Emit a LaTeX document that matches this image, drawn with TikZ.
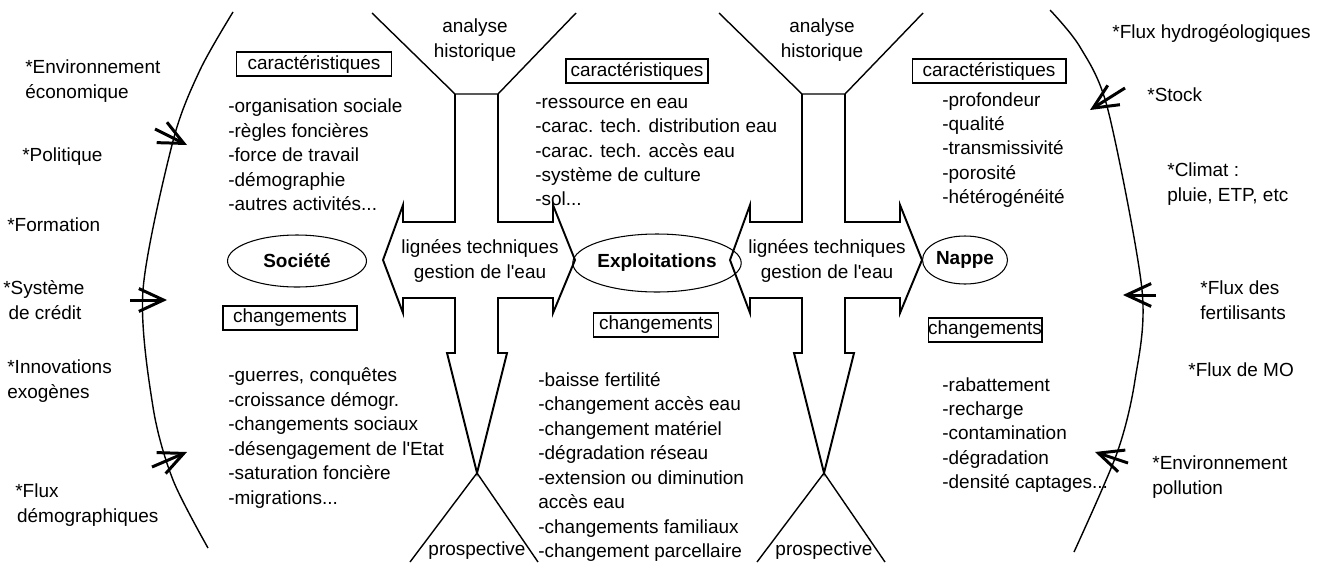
\documentclass[tikz,border=0pt]{standalone}
\usepackage{fontspec}
\setmainfont{Liberation Sans}
\usepackage{tikz}
\usetikzlibrary{shapes.geometric,arrows.meta}

\begin{document}
\begin{tikzpicture}[x=0.02cm,y=-0.02cm]
  \tikzset{>={Straight Barb[length=14pt,width=13pt]}}
  \tikzset{txt/.style={font=\fontsize{10.8}{13.9}\selectfont, inner sep=0pt, align=left}}
  \tikzset{boite/.style={draw, line width=0.6pt, font=\fontsize{10.8}{13}\selectfont, inner sep=0pt, minimum height=0.48cm}}
  \tikzset{pole/.style={draw, ellipse, line width=0.6pt, inner sep=0pt, font=\fontsize{10.8}{13}\selectfont\bfseries}}
  \tikzset{flux/.style={->, line width=1.7pt}}
  \useasboundingbox (0,0) rectangle (1324,565);

  % les deux sabliers
  \foreach \d [count=\i] in {0,347} {
    \draw [line width=0.8pt] (372+\d,13) -- (455+\d,94) -- (498+\d,94) -- (576+\d,13);
    \draw [line width=1.1pt] (455+\d,94) -- (455+\d,222) -- (403+\d,222) -- (403+\d,205)
      -- (383+\d,260) -- (403+\d,313) -- (403+\d,298) -- (455+\d,298) -- (455+\d,353)
      -- (447+\d,353) -- (477+\d,473) -- (507+\d,353) -- (498+\d,353) -- (498+\d,298)
      -- (553+\d,298) -- (553+\d,313) -- (575+\d,260) -- (553+\d,205) -- (553+\d,222)
      -- (498+\d,222) -- (498+\d,94);
    \draw [line width=0.8pt] (410+\d,562) -- (477+\d,473) -- (538+\d,562);
    \node [txt, align=center] (hist\i) at (475+\d,40) {analyse\\historique};
    \node [txt, align=center] (lign\i) at (480+\d,261) {lignées techniques\\gestion de l\textquotesingle eau};
    \node [txt] (prosp\i) at (477+\d,551) {prospective};
  }

  % les deux arcs
  \draw [line width=0.8pt] plot [smooth] coordinates {(233,12) (200,70) (173,141) (143,290) (153,407) (173,480) (208,548)};
  \draw [line width=0.8pt] plot [smooth] coordinates {(1050,10) (1080,47) (1108,110) (1142,290) (1135,380) (1117,453) (1074,552)};

  \foreach \xa/\ya/\xb/\yb [count=\k] in {155/129/187/145, 130/300/167/300, 152/467/187/452,
                                          1125/88/1090/110, 1156/295/1123/295, 1128/463/1095/452} {
    \coordinate (FluxDe\k) at (\xa,\ya);
    \coordinate (FluxVers\k) at (\xb,\yb);
    \draw [flux] (FluxDe\k) -- (FluxVers\k);
  }

  % facteurs externes
  \node [txt, anchor=west] (EnvEco) at (25,81) {*Environnement\\économique};
  \node [txt, anchor=west] (Politique) at (22,157) {*Politique};
  \node [txt, anchor=west] (Formation) at (7,225) {*Formation};
  \node [txt, anchor=west] (Credit) at (3,300) {*Système\\\hspace*{3pt}de crédit};
  \node [txt, anchor=west] (Innov) at (7,381) {*Innovations\\exogènes};
  \node [txt, anchor=west] (FluxDemo) at (15,505) {*Flux\\\hspace*{1pt}démographiques};

  \node [txt, anchor=west] (FluxHydro) at (1112,33) {*Flux hydrogéologiques};
  \node [txt, anchor=west] (Stock) at (1147,95) {*Stock};
  \node [txt, anchor=west] (Climat) at (1167,184) {*Climat :\\pluie, ETP, etc};
  \node [txt, anchor=west] (FluxFert) at (1200,300) {*Flux des\\fertilisants};
  \node [txt, anchor=west] (FluxMO) at (1188,370) {*Flux de MO};
  \node [txt, anchor=west] (EnvPol) at (1152,477) {*Environnement\\pollution};

  % Societe
  \node [boite, minimum width=3.1cm] (CaracSoc) at (314,64) {caractéristiques};
  \node [txt, anchor=west] (ListeCaracSoc) at (228,155) {-organisation sociale\\-règles foncières\\-force de travail\\-démographie\\-autres activités...};
  \node [pole, minimum width=2.78cm, minimum height=1.04cm] (Societe) at (297,261) {Société};
  \node [boite, minimum width=2.68cm] (ChgtSoc) at (290,318) {changements};
  \node [txt, anchor=west] (ListeChgtSoc) at (228,438) {-guerres, conquêtes\\-croissance démogr.\\-changements sociaux\\-désengagement de l\textquotesingle Etat\\-saturation foncière\\-migrations...};

  % Exploitations
  \node [boite, minimum width=2.84cm] (CaracExp) at (637,71) {caractéristiques};
  \node [txt, anchor=west] (ListeCaracExp) at (535,152) {-ressource en eau\\-carac. tech. distribution eau\\-carac. tech. accès eau\\-système de culture\\-sol...};
  \node [pole, minimum width=2.78cm, minimum height=1.16cm] (Exploit) at (657,263) {Exploitations};
  \node [boite, minimum width=2.5cm] (ChgtExp) at (656,325) {changements};
  \node [txt, anchor=west] (ListeChgtExp) at (538,467) {-baisse fertilité\\-changement accès eau\\-changement matériel\\-dégradation réseau\\-extension ou diminution\\accès eau\\-changements familiaux\\-changement parcellaire};

  % Nappe
  \node [boite, minimum width=3.08cm] (CaracNap) at (989,71) {caractéristiques};
  \node [txt, anchor=west] (ListeCaracNap) at (942,150) {-profondeur\\-qualité\\-transmissivité\\-porosité\\-hétérogénéité};
  \node [pole, minimum width=1.7cm, minimum height=0.96cm] (Nappe) at (965,260) {Nappe};
  \node [boite, minimum width=2.2cm] (ChgtNap) at (985,330) {changements};
  \node [txt, anchor=west] (ListeChgtNap) at (942,435) {-rabattement\\-recharge\\-contamination\\-dégradation\\-densité captages...};
\end{tikzpicture}
\end{document}
